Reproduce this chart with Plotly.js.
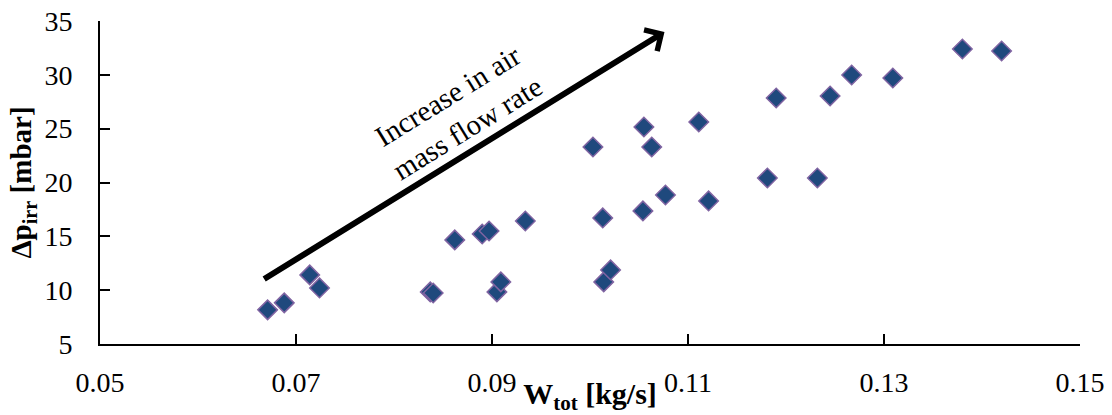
<!DOCTYPE html>
<html>
<head>
<meta charset="utf-8">
<script src="https://cdn.plot.ly/plotly-3.0.1.min.js"></script>
<style>
  html, body { margin: 0; padding: 0; background: #ffffff; }
  #chart { width: 1112px; height: 415px; }
</style>
</head>
<body>
<div id="chart"></div>
<script>
// Mass flow rate W_tot [kg/s]
const wTot = [
  0.0671, 0.0688, 0.0714, 0.0724, 0.0837, 0.0840,
  0.0862, 0.0890, 0.0897, 0.0934, 0.0905, 0.0909,
  0.1014, 0.1021, 0.1003, 0.1055, 0.1063, 0.1111,
  0.1190, 0.1245, 0.1267, 0.1309, 0.1380, 0.1420,
  0.1013, 0.1054, 0.1077, 0.1121, 0.1181, 0.1232
];
// Irreversible pressure drop Δp_irr [mbar]
const dpIrr = [
  8.17, 8.82, 11.42, 10.21, 9.84, 9.74,
  14.67, 15.22, 15.50, 16.43, 9.84, 10.77,
  10.77, 11.88, 23.30, 25.16, 23.30, 25.62,
  27.85, 28.04, 29.99, 29.71, 32.40, 32.21,
  16.71, 17.36, 18.84, 18.29, 20.42, 20.42
];
const xTickVals = [0.05, 0.07, 0.09, 0.11, 0.13, 0.15];
const xTickText = ['0.05', '0.07', '0.09', '0.11', '0.13', '0.15'];
const yTickVals = [5, 10, 15, 20, 25, 30, 35];
const arrowLabel = 'Increase in air<br>mass flow rate';

const FONT = "'Liberation Serif', 'Times New Roman', serif";

const trace = {
  type: 'scatter',
  mode: 'markers',
  x: wTot,
  y: dpIrr,
  marker: {
    symbol: 'diamond',
    size: 15,
    color: '#1F497D',
    line: { color: '#8064A2', width: 1.5 }
  },
  showlegend: false,
  hoverinfo: 'x+y'
};

const layout = {
  width: 1112,
  height: 415,
  margin: { l: 100, r: 32, t: 21, b: 71 },
  paper_bgcolor: '#ffffff',
  plot_bgcolor: '#ffffff',
  font: { family: FONT, size: 27, color: '#000000' },
  xaxis: {
    range: [0.05, 0.15],
    tickvals: xTickVals,
    ticktext: xTickText,
    ticks: 'inside',
    ticklen: 10,
    tickwidth: 2,
    tickcolor: '#000000',
    showline: true,
    linecolor: '#000000',
    linewidth: 2,
    showgrid: false,
    zeroline: false,
    ticklabelstandoff: 12,
    tickfont: { family: FONT, size: 28, color: '#000000' },
    title: {
      text: 'W<sub>tot</sub> [kg/s]',
      font: { family: FONT, size: 30, color: '#000000', weight: 'bold' },
      standoff: 0
    }
  },
  yaxis: {
    range: [5, 35],
    tickvals: yTickVals,
    ticks: 'inside',
    ticklen: 10,
    tickwidth: 2,
    tickcolor: '#000000',
    showline: true,
    linecolor: '#000000',
    linewidth: 2,
    showgrid: false,
    zeroline: false,
    ticklabelstandoff: 20,
    tickfont: { family: FONT, size: 28, color: '#000000' },
    title: {
      text: 'Δp<sub>irr</sub> [mbar]',
      font: { family: FONT, size: 29, color: '#000000', weight: 'bold' },
      standoff: 4
    }
  },
  annotations: [
    {
      xref: 'x', yref: 'y', axref: 'x', ayref: 'y',
      x: 0.1076, y: 33.98,
      ax: 0.0666, ay: 10.95,
      text: '',
      showarrow: true,
      arrowhead: 4,
      arrowsize: 0.8,
      arrowwidth: 6,
      arrowcolor: '#000000',
      standoff: 0
    },
    {
      xref: 'x', yref: 'y',
      x: 0.0865, y: 26.55,
      text: arrowLabel,
      showarrow: false,
      textangle: -31.7,
      xanchor: 'center', yanchor: 'middle',
      font: { family: FONT, size: 29, color: '#000000' }
    }
  ]
};

Plotly.newPlot('chart', [trace], layout, { displayModeBar: false, staticPlot: true });
</script>
</body>
</html>
